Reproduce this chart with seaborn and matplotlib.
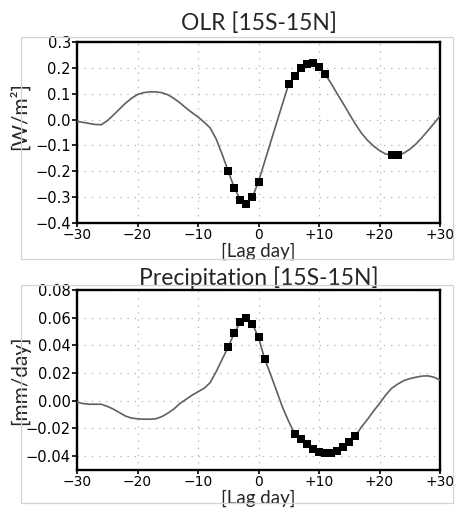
import pandas as pd
import matplotlib
matplotlib.use('Agg')
import matplotlib.pyplot as plt
import seaborn as sns
from matplotlib.patches import Rectangle

# lag days and composite values
lag_days = list(range(-30, 31))

olr = [-0.007, -0.011, -0.015, -0.019, -0.020, -0.005, 0.017, 0.040, 0.063, 0.082,
       0.097, 0.104, 0.107, 0.107, 0.104, 0.096, 0.082, 0.065, 0.045, 0.027,
       0.010, -0.010, -0.032, -0.075, -0.135, -0.200, -0.264, -0.310, -0.326, -0.300,
       -0.240, -0.164, -0.088, -0.012, 0.063, 0.138, 0.170, 0.198, 0.214, 0.217,
       0.204, 0.176, 0.140, 0.100, 0.062, 0.022, -0.017, -0.052, -0.080, -0.102,
       -0.120, -0.133, -0.138, -0.138, -0.130, -0.115, -0.095, -0.070, -0.043, -0.015,
       0.014]

precip = [-0.0010, -0.0020, -0.0025, -0.0025, -0.0025, -0.0040, -0.0060, -0.0085, -0.0110, -0.0125,
          -0.0130, -0.0133, -0.0133, -0.0130, -0.0115, -0.0090, -0.0060, -0.0020, 0.0010, 0.0040,
          0.0065, 0.0090, 0.0130, 0.0210, 0.0300, 0.0390, 0.0490, 0.0570, 0.0600, 0.0555,
          0.0457, 0.0305, 0.0190, 0.0070, -0.0050, -0.0150, -0.0240, -0.0275, -0.0315, -0.0350,
          -0.0370, -0.0380, -0.0380, -0.0365, -0.0335, -0.0300, -0.0255, -0.0190, -0.0135, -0.0075,
          -0.0020, 0.0040, 0.0090, 0.0120, 0.0145, 0.0160, 0.0170, 0.0178, 0.0180, 0.0170,
          0.0150]

# days marked as significant (black squares)
olr_sig = [-5, -4, -3, -2, -1, 0, 5, 6, 7, 8, 9, 10, 11, 22, 23]
precip_sig = [-5, -4, -3, -2, -1, 0, 1, 6, 7, 8, 9, 10, 11, 12, 13, 14, 15, 16]

xticks = [-30, -20, -10, 0, 10, 20, 30]
xtick_labels = ['\u221230', '\u221220', '\u221210', '0', '+10', '+20', '+30']
olr_yticks = [-0.4, -0.3, -0.2, -0.1, 0.0, 0.1, 0.2, 0.3]
precip_yticks = [-0.04, -0.02, 0.00, 0.02, 0.04, 0.06, 0.08]

df = pd.DataFrame({'lag': lag_days, 'olr': olr, 'precip': precip})

sns.set_style('white')
plt.rcParams['font.family'] = ['DejaVu Sans']

fig = plt.figure(figsize=(4.57, 5.12), dpi=100)

# light grey frames around each panel
for y0, h in [(0.4941, 0.4336), (0.0176, 0.4258)]:
    fig.patches.append(Rectangle((0.046, y0), 0.945, h, transform=fig.transFigure,
                                 fill=False, edgecolor='#d4d4d4', linewidth=0.9, zorder=0))

ax1 = fig.add_axes([0.1685, 0.5645, 0.7943, 0.3535])
ax2 = fig.add_axes([0.1685, 0.0820, 0.7943, 0.3516])

panels = [
    (ax1, 'olr', olr_sig, 'OLR [15S-15N]', '[W/m\u00b2]', (-0.4, 0.3), olr_yticks,
     '{:.1f}', 8.5, 0.59),
    (ax2, 'precip', precip_sig, 'Precipitation [15S-15N]', '[mm/day]', (-0.05, 0.08),
     precip_yticks, '{:.2f}', 3.5, 0.5),
]

for ax, col, sig, title, ylabel, ylim, yticks, fmt, tpad, ly in panels:
    sns.lineplot(data=df, x='lag', y=col, ax=ax, color='#606060', linewidth=1.2, zorder=3)
    sig_df = df[df['lag'].isin(sig)]
    sns.scatterplot(data=sig_df, x='lag', y=col, ax=ax, marker='s', s=30,
                    color='black', linewidth=0, zorder=4)

    ax.set_xlim(-30, 30)
    ax.set_ylim(*ylim)
    ax.set_xticks(xticks)
    ax.set_xticklabels(xtick_labels)
    ax.set_yticks(yticks)
    ax.set_yticklabels([fmt.format(v).replace('-', '\u2212') for v in yticks])
    ax.grid(True, color='#bdbdbd', linestyle=(0, (1.2, 4.5)), linewidth=0.9)

    for s in ax.spines.values():
        s.set_linewidth(1.7)
        s.set_color('black')
    ax.tick_params(axis='y', direction='out', length=3.5, width=1.2, pad=1,
                   labelsize=10.5, colors='black', left=True)
    ax.tick_params(axis='x', direction='out', length=3, width=1.2, pad=0.5,
                   labelsize=10, colors='black', bottom=True)

    ax.set_title(title, fontsize=16.5, family='Lato', pad=tpad)
    ax.set_ylabel(ylabel, fontsize=15, family='Lato')
    ax.set_xlabel('[Lag day]', fontsize=13.5, family='Lato')
    ax.yaxis.set_label_coords(-0.13, ly)
    ax.xaxis.set_label_coords(0.5, -0.11)

fig.savefig('out.png', dpi=100)
